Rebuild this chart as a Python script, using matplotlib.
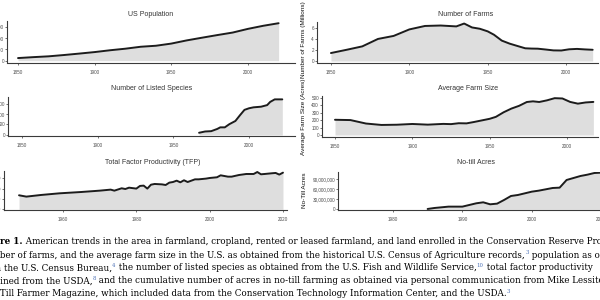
import matplotlib.pyplot as plt
import matplotlib.ticker as mticker

# ---- data ----
pop_years = [1850, 1860, 1870, 1880, 1890, 1900, 1910, 1920, 1930, 1940,
             1950, 1960, 1970, 1980, 1990, 2000, 2010, 2020]
pop_values = [23.2, 31.4, 38.6, 50.2, 62.9, 76.2, 92.2, 106.0, 123.2, 132.2,
              151.3, 179.3, 203.2, 226.5, 248.7, 281.4, 308.7, 331.4]  # millions

farm_years = [1850, 1860, 1870, 1880, 1890, 1900, 1910, 1920, 1925, 1930, 1935,
              1940, 1945, 1950, 1954, 1959, 1964, 1969, 1974, 1978, 1982, 1987,
              1992, 1997, 2002, 2007, 2012, 2017]
farm_counts = [1.45, 2.04, 2.66, 4.01, 4.56, 5.74, 6.37, 6.45, 6.37, 6.29, 6.81,
               6.10, 5.86, 5.39, 4.78, 3.71, 3.16, 2.73, 2.31, 2.26, 2.24, 2.09,
               1.93, 1.91, 2.13, 2.20, 2.11, 2.04]  # millions
farm_sizes = [203, 199, 153, 134, 137, 147, 138, 148, 145, 157, 155,
              174, 195, 216, 242, 303, 352, 389, 440, 449, 440, 462,
              491, 487, 441, 418, 434, 441]  # acres

species_years = [1967, 1971, 1975, 1979, 1981, 1984, 1987, 1991, 1994, 1997,
                 2000, 2003, 2008, 2012, 2014, 2017, 2022]
species_counts = [106, 167, 182, 288, 364, 364, 515, 667, 939, 1197,
                  1273, 1318, 1348, 1424, 1576, 1697, 1697]

tfp_years = [1948, 1950, 1954, 1959, 1965, 1970, 1973, 1974, 1976, 1977, 1978,
             1980, 1981, 1982, 1983, 1984, 1985, 1987, 1988, 1989, 1990, 1991,
             1992, 1993, 1994, 1996, 1997, 1999, 2000, 2002, 2003, 2005, 2006,
             2008, 2010, 2012, 2013, 2014, 2015, 2017, 2018, 2019, 2020]
tfp_index = [1.36, 1.23, 1.39, 1.55, 1.68, 1.81, 1.91, 1.81, 2.04, 1.97, 2.10,
             2.01, 2.27, 2.30, 2.01, 2.39, 2.46, 2.42, 2.36, 2.59, 2.65, 2.78,
             2.62, 2.82, 2.65, 2.91, 2.91, 2.98, 3.04, 3.11, 3.30, 3.17, 3.17,
             3.33, 3.43, 3.43, 3.62, 3.40, 3.43, 3.50, 3.53, 3.37, 3.56]

notill_years = [1985, 1986, 1987, 1988, 1989, 1990, 1991, 1992, 1993, 1994,
                1995, 1996, 1997, 1998, 1999, 2000, 2001, 2002, 2003, 2004,
                2005, 2006, 2007, 2008, 2009, 2010, 2011]
notill_acres = [1, 4, 6, 8, 8, 8, 13, 18, 21, 15,
                17, 28, 40, 43, 48, 53, 56, 60, 64, 65,
                88, 94, 100, 104, 109, 110, 112]  # millions

W, H = 600, 300
fig = plt.figure(figsize=(6, 3), dpi=100)
fig.patch.set_facecolor('white')

SANS = 'Liberation Sans'
FILL = '#dedede'
LINE = '#1c1c1c'
AXC = '#3a3a3a'


def panel(box, xlim, ylim, xticks, yticks, yfmt):
    l, t, r, b = box
    ax = fig.add_axes([l / W, 1 - b / H, (r - l) / W, (b - t) / H])
    ax.set_xlim(*xlim)
    ax.set_ylim(*ylim)
    for s in ['top', 'right']:
        ax.spines[s].set_visible(False)
    for s in ['left', 'bottom']:
        ax.spines[s].set_color(AXC)
        ax.spines[s].set_linewidth(0.8)
    ax.set_xticks(xticks)
    ax.set_yticks(yticks)
    ax.yaxis.set_major_formatter(mticker.FuncFormatter(yfmt))
    ax.tick_params(axis='both', length=1.6, width=0.5, color=AXC,
                   labelsize=3.3, labelcolor='#4d4d4d')
    ax.tick_params(axis='x', pad=3.6)
    ax.tick_params(axis='y', pad=0.6)
    for lab in ax.get_xticklabels() + ax.get_yticklabels():
        lab.set_family(SANS)
    return ax


def area(ax, x, y):
    ax.fill_between(x, 0, y, color=FILL, lw=0)
    ax.plot(x, y, color=LINE, lw=1.4, solid_capstyle='round')


def title(x, y, s):
    fig.text(x / W, 1 - y / H, s, ha='center', va='center', fontsize=5,
             family=SANS, color='#333333')


def ylabel(x, y, s):
    fig.text(x / W, 1 - y / H, s, ha='center', va='center', rotation=90,
             fontsize=4.6, family=SANS, color='#111111')


comma = lambda v, p: f'{int(round(v)):,}'

# US population
ax = panel((7, 21, 295, 62.5), (1842.8, 2030.7), (-16, 351),
           [1850, 1900, 1950, 2000], [0, 100, 200, 300],
           lambda v, p: f'{int(v * 1e6):,}')
area(ax, pop_years, pop_values)
title(151, 15, 'US Population')

# Number of farms
ax = panel((317, 22, 598, 62.5), (1841.1, 2020.4), (-0.27, 7.09),
           [1850, 1900, 1950, 2000], [0, 2, 4, 6], comma)
area(ax, farm_years, farm_counts)
title(466, 15, 'Number of Farms')
ylabel(304, 40, 'Number of Farms (Millions)')

# Listed species
ax = panel((8, 97, 295, 136), (1840.7, 2030.4), (-48, 1810),
           [1850, 1900, 1950, 2000], [0, 500, 1000, 1500], comma)
area(ax, species_years, species_counts)
title(152, 89, 'Number of Listed Species')

# Average farm size
ax = panel((322, 96, 598, 136.5), (1841.6, 2020), (-20, 520),
           [1850, 1900, 1950, 2000], [0, 100, 200, 300, 400, 500], comma)
area(ax, farm_years, farm_sizes)
title(468, 89, 'Average Farm Size')
ylabel(303, 117, 'Average Farm Size (Acres)')

# TFP
ax = panel((4, 171, 287, 210), (1943.9, 2021.1), (-0.07, 3.72),
           [1960, 1980, 2000, 2020], [0, 1, 2, 3], lambda v, p: f'{v:.1f}')
area(ax, tfp_years, tfp_index)
title(153, 163, 'Total Factor Productivity (TFP)')

# No-till acres
ax = panel((338, 172, 618, 210), (1972.1, 2012.4), (-2.1, 112),
           [1980, 1990, 2000, 2010], [0, 30, 60, 90],
           lambda v, p: f'{int(v * 1e6):,}')
area(ax, notill_years, notill_acres)
title(476, 163, 'No-till Acres')
ylabel(305, 190, 'No-Till Acres')

# ---- caption (cropped on both sides, like the reference) ----
SERIF = 'DejaVu Serif'
CAP = 6.3
styles = {
    'n': dict(family=SERIF, fontsize=CAP, color='black'),
    'b': dict(family=SERIF, fontsize=CAP, color='black', weight='bold'),
    's': dict(family=SERIF, fontsize=CAP * 0.62, color='#4a6fb5'),
}
renderer = fig.canvas.get_renderer()


def text_width(s, kind):
    t1 = fig.text(0, 0, s + '|', **styles[kind])
    t2 = fig.text(0, 0, '|', **styles[kind])
    w = t1.get_window_extent(renderer).width - t2.get_window_extent(renderer).width
    t1.remove()
    t2.remove()
    return w


def caption_line(base_y, parts, hidden, start_x):
    # 'hidden' is the head of the first part that falls left of the crop
    x = start_x - text_width(hidden, parts[0][1])
    for s, kind in parts:
        dy = 3.2 if kind == 's' else 0
        fig.text(x / W, 1 - (base_y - dy) / H, s, va='baseline', ha='left',
                 **styles[kind])
        x += text_width(s, kind)


caption_line(244.5, [('Figure 1.', 'b'),
                     (' American trends in the area in farmland, cropland, rented or leased '
                      'farmland, and land enrolled in the Conservation Reserve Program (CRP),', 'n')],
             'Figu', 0.3)
caption_line(257.5, [('number of farms, and the average farm size in the U.S. as obtained from '
                      'the historical U.S. Census of Agriculture records,', 'n'), ('3', 's'),
                     (' population as obtained', 'n')],
             'num', 0.3)
caption_line(270.5, [('from the U.S. Census Bureau,', 'n'), ('4', 's'),
                     (' the number of listed species as obtained from the U.S. Fish and '
                      'Wildlife Service,', 'n'), ('10', 's'), (' total factor productivity', 'n')],
             'from ', 4)
caption_line(283.3, [('as obtained from the USDA,', 'n'), ('8', 's'),
                     (' and the cumulative number of acres in no-till farming as obtained via '
                      'personal communication from Mike Lessiter', 'n')],
             'as obta', 0.3)
caption_line(296, [('of No-Till Farmer Magazine, which included data from the Conservation '
                    'Technology Information Center, and the USDA.', 'n'), ('3', 's')],
             'of No-', 0.5)

fig.savefig('out.png', dpi=100, facecolor='white')
